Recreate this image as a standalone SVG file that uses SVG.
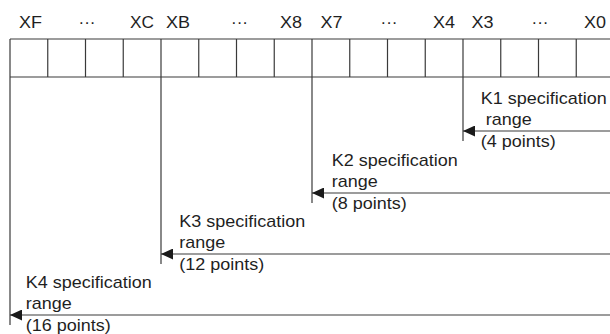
<svg xmlns="http://www.w3.org/2000/svg" width="610" height="334" viewBox="0 0 610 334">
<style>
  text { font-family: "Liberation Sans", Arial, sans-serif; font-size: 17px; fill: #1f1f1f; }
  .dots { text-anchor: middle; }
  .grid line { stroke: #3a3a3a; stroke-width: 1.2; fill: none; }
  .ext { stroke: #3a3a3a; stroke-width: 1.2; fill: none; }
  .arr { stroke: #3a3a3a; stroke-width: 1.1; fill: none; marker-end: url(#ah); }
</style>
<defs>
  <marker id="ah" markerWidth="12" markerHeight="11" refX="12" refY="5.5" orient="auto" markerUnits="userSpaceOnUse">
    <path d="M0,0 L12,5.5 L0,11 Z" fill="#1a1a1a"/>
  </marker>
</defs>
<g id="header">
  <text x="19" y="28" textLength="23" lengthAdjust="spacingAndGlyphs">XF</text>
  <text class="dots" x="87" y="28">···</text>
  <text x="130" y="28" textLength="24" lengthAdjust="spacingAndGlyphs">XC</text>
  <text x="166" y="28" textLength="24" lengthAdjust="spacingAndGlyphs">XB</text>
  <text class="dots" x="239.5" y="28">···</text>
  <text x="280" y="28" textLength="22" lengthAdjust="spacingAndGlyphs">X8</text>
  <text x="320.5" y="28" textLength="22" lengthAdjust="spacingAndGlyphs">X7</text>
  <text class="dots" x="389" y="28">···</text>
  <text x="433" y="28" textLength="22" lengthAdjust="spacingAndGlyphs">X4</text>
  <text x="471.5" y="28" textLength="22" lengthAdjust="spacingAndGlyphs">X3</text>
  <text class="dots" x="540" y="28">···</text>
  <text x="584" y="28" textLength="22" lengthAdjust="spacingAndGlyphs">X0</text>
</g>
<g id="grid" class="grid">
  <line x1="10" y1="39" x2="615" y2="39"/>
  <line x1="10" y1="77" x2="615" y2="77"/>
  <line x1="10" y1="39" x2="10" y2="77"/>
  <line x1="47.75" y1="39" x2="47.75" y2="77"/>
  <line x1="85.5" y1="39" x2="85.5" y2="77"/>
  <line x1="123.25" y1="39" x2="123.25" y2="77"/>
  <line x1="161" y1="39" x2="161" y2="77"/>
  <line x1="198.75" y1="39" x2="198.75" y2="77"/>
  <line x1="236.5" y1="39" x2="236.5" y2="77"/>
  <line x1="274.25" y1="39" x2="274.25" y2="77"/>
  <line x1="312" y1="39" x2="312" y2="77"/>
  <line x1="349.75" y1="39" x2="349.75" y2="77"/>
  <line x1="387.5" y1="39" x2="387.5" y2="77"/>
  <line x1="425.25" y1="39" x2="425.25" y2="77"/>
  <line x1="463" y1="39" x2="463" y2="77"/>
  <line x1="500.75" y1="39" x2="500.75" y2="77"/>
  <line x1="538.5" y1="39" x2="538.5" y2="77"/>
  <line x1="576.25" y1="39" x2="576.25" y2="77"/>
</g>
<g id="connectors">
  <line class="ext" x1="463" y1="77" x2="463" y2="141"/>
  <line class="ext" x1="312" y1="77" x2="312" y2="203"/>
  <line class="ext" x1="161" y1="77" x2="161" y2="264"/>
  <line class="ext" x1="10" y1="77" x2="10" y2="325"/>
  <line class="arr" x1="615" y1="131" x2="463" y2="131"/>
  <line class="arr" x1="615" y1="193" x2="312" y2="193"/>
  <line class="arr" x1="615" y1="254" x2="161" y2="254"/>
  <line class="arr" x1="615" y1="315" x2="10" y2="315"/>
</g>
<g id="k1">
  <text x="480.7" y="104" textLength="126" lengthAdjust="spacingAndGlyphs">K1 specification</text>
  <text x="485.7" y="125" textLength="46" lengthAdjust="spacingAndGlyphs">range</text>
  <text x="480.7" y="147" textLength="75" lengthAdjust="spacingAndGlyphs">(4 points)</text>
</g>
<g id="k2">
  <text x="331.7" y="166" textLength="126" lengthAdjust="spacingAndGlyphs">K2 specification</text>
  <text x="331.7" y="187" textLength="46" lengthAdjust="spacingAndGlyphs">range</text>
  <text x="331.7" y="209" textLength="75" lengthAdjust="spacingAndGlyphs">(8 points)</text>
</g>
<g id="k3">
  <text x="179.3" y="227" textLength="126" lengthAdjust="spacingAndGlyphs">K3 specification</text>
  <text x="179.3" y="248" textLength="46" lengthAdjust="spacingAndGlyphs">range</text>
  <text x="179.3" y="270" textLength="85" lengthAdjust="spacingAndGlyphs">(12 points)</text>
</g>
<g id="k4">
  <text x="25.7" y="288" textLength="126" lengthAdjust="spacingAndGlyphs">K4 specification</text>
  <text x="25.7" y="309" textLength="46" lengthAdjust="spacingAndGlyphs">range</text>
  <text x="25.7" y="331" textLength="85" lengthAdjust="spacingAndGlyphs">(16 points)</text>
</g>
</svg>
